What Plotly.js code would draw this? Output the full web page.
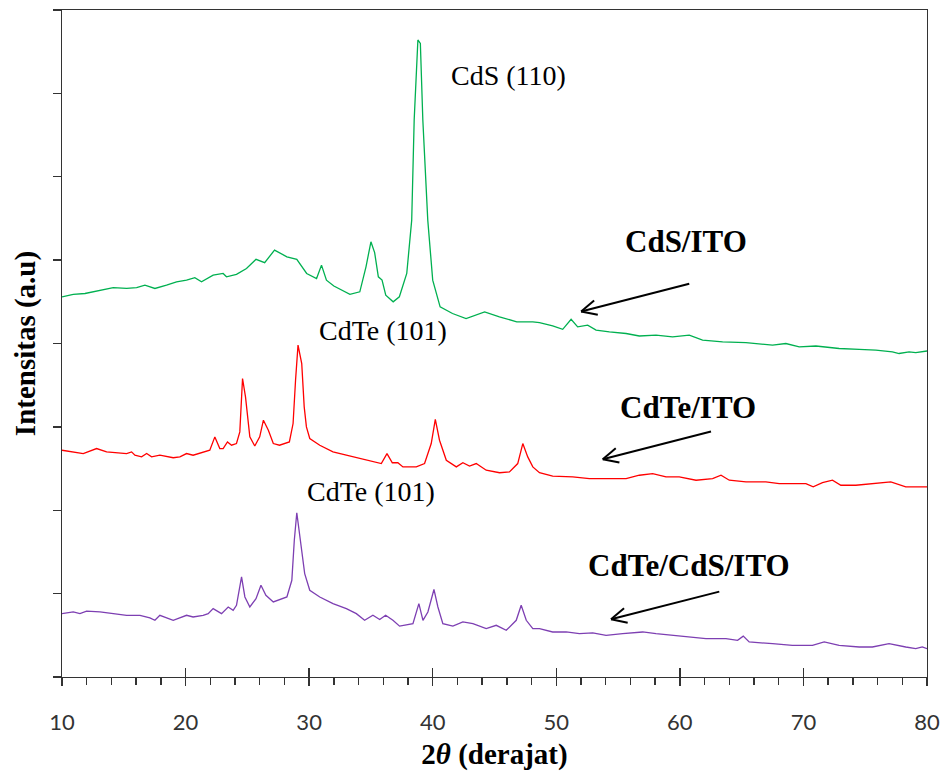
<!DOCTYPE html>
<html><head><meta charset="utf-8">
<script src="https://cdn.plot.ly/plotly-3.0.1.min.js"></script>
<style>html,body{margin:0;padding:0;background:#fff}#chart{width:947px;height:771px}</style>
</head><body><div id="chart"></div>
<script>
// 2θ values and intensities (a.u., offset stacked)
const cdsX = [10.0,10.91,11.86,12.80,13.34,14.15,15.23,16.04,16.71,17.52,18.46,19.27,20.08,20.75,21.29,22.23,23.04,23.31,24.12,24.93,25.7,26.4,27.2,28.2,29.0,29.8,30.6,31.0,31.4,32.0,33.3,34.1,34.6,35.0,35.3,35.6,35.9,36.2,36.8,37.3,37.9,38.3,38.5,38.8,39.0,39.2,39.6,40.0,40.6,41.6,42.7,44.2,45.4,46.8,48.1,48.64,49.71,50.52,51.20,51.73,52.54,53.22,54.30,55.65,56.72,58.07,59.41,60.76,61.84,63.46,65.35,67.50,68.58,69.66,71.01,72.89,74.51,75.86,77.20,77.74,78.55,79.09,80.0];
const cdsY = [456,459,460,463,464,467,466,467,470,466,470,474,476,479,474,482,484,480,483,490,501,497,512,504,501,484,478,494,476,469,459,462,492,522,509,480,476,458,450,456,484,548,668,764,760,668,548,476,444,436,430,438,432,426,426,425,421,417,429,420,422,416,414,412,409,410,408,410,404,402,401,398,400,396,397,394,393,392,390,388,390,389,391];

const cdteX = [10.0,10.91,11.72,12.80,13.61,15.23,15.63,15.90,16.44,16.85,17.25,17.92,19.0,19.54,20.08,20.61,21.42,21.96,22.37,22.77,23.04,23.39,23.72,24.12,24.39,24.61,24.85,25.2,25.6,26.0,26.3,26.7,27.1,27.6,28.4,28.7,28.9,29.1,29.4,29.6,29.78,30.05,30.86,31.93,33.01,34.09,35.16,35.84,36.30,36.73,37.18,37.59,38.67,39.34,39.88,40.21,40.55,41.10,41.91,42.44,42.98,43.52,44.33,45.41,46.21,46.88,47.29,47.69,48.10,48.64,49.71,51.33,52.68,54.03,55.65,56.72,57.80,58.88,59.95,61.31,62.65,63.33,64.0,65.35,66.96,68.04,69.11,70.20,70.79,71.54,72.35,73.03,74.24,75.58,77.07,78.28,79.09,80.0];
const cdteY = [272,270,268,274,270,268,270,266,264,268,264,266,263,264,268,266,270,272,288,274,274,282,278,280,294,358,336,288,277,288,308,296,280,278,282,304,356,398,376,324,300,286,278,270,266,262,258,256,268,257,257,252,252,256,280,309,284,260,252,257,253,256,248,245,246,256,280,264,252,245,241,240,238,238,238,242,244,240,240,236,238,242,236,234,234,232,232,232,228,233,236,230,230,232,234,228,228,228];

const stackX = [10.0,10.91,11.45,11.99,13.07,14.15,15.23,16.31,17.11,17.52,17.92,19.0,20.08,20.61,21.42,21.83,22.23,22.91,23.45,23.85,24.12,24.53,24.8,25.2,25.7,26.1,26.5,27.1,28.2,28.6,28.8,29.0,29.2,29.64,30.05,30.86,31.93,33.01,33.82,34.49,35.16,35.71,36.19,36.78,37.32,38.40,38.88,39.21,39.61,40.10,40.42,40.82,41.63,42.44,43.25,44.33,45.14,45.95,46.76,47.16,47.57,48.10,48.64,49.71,50.80,51.87,52.95,54.03,55.37,56.99,58.07,59.41,60.76,62.11,63.73,64.67,65.13,65.61,67.50,69.11,70.73,71.68,72.89,74.51,75.58,76.93,78.28,79.09,79.62,80.0];
const stackY = [76,78,76,79,78,76,74,74,71,68,74,68,74,72,74,76,82,76,84,80,86,120,96,84,94,110,98,90,96,116,164,197,176,124,104,96,88,82,76,68,74,69,74,68,61,64,88,68,78,105,84,64,61,66,64,58,62,56,68,86,68,58,58,54,54,52,53,50,52,54,52,50,48,46,46,44,49,42,40,38,38,42,38,36,36,40,36,34,36,34];

const xTickVals = [10,20,30,40,50,60,70,80];

// labels
const peakLabels = [
  {text:"CdS (110)", x:46.17, y:722},
  {text:"CdTe (101)", x:35.95, y:416},
  {text:"CdTe (101)", x:34.98, y:222}
];
const sampleLabels = [
  {text:"CdS/ITO", x:60.52, y:522},
  {text:"CdTe/ITO", x:60.68, y:323},
  {text:"CdTe/CdS/ITO", x:60.76, y:134}
];
// arrows: tail -> head
const arrows = [
  {tx:60.76, ty:471.6, hx:52.01, hy:438.4},
  {tx:62.52, ty:294.4, hx:53.76, hy:261.2},
  {tx:63.19, ty:102.4, hx:54.43, hy:69.2}
];

const M = {l:62, r:20, t:10, b:94};
const W = 947 - M.l - M.r, H = 771 - M.t - M.b;
const XR = [10,80], YR = [0,800];
const toPx = (x,y)=>[(x-XR[0])/(XR[1]-XR[0])*W, (YR[1]-y)/(YR[1]-YR[0])*H];
const toData = (px,py)=>[XR[0]+px/W*(XR[1]-XR[0]), YR[1]-py/H*(YR[1]-YR[0])];

const shapes = [];
arrows.forEach(a=>{
  shapes.push({type:'line', xref:'x', yref:'y', x0:a.tx, y0:a.ty, x1:a.hx, y1:a.hy, line:{color:'#000', width:2}});
  const [hx,hy] = toPx(a.hx,a.hy), [tx,ty] = toPx(a.tx,a.ty);
  const ang = Math.atan2(ty-hy, tx-hx);
  const L = 17, spread = 0.45;
  [ang+spread, ang-spread].forEach(t=>{
    const [wx,wy] = toData(hx+L*Math.cos(t), hy+L*Math.sin(t));
    shapes.push({type:'line', xref:'x', yref:'y', x0:a.hx, y0:a.hy, x1:wx, y1:wy, line:{color:'#000', width:2}});
  });
});

const annotations = [];
peakLabels.forEach(p=>annotations.push({text:p.text, x:p.x, y:p.y, xref:'x', yref:'y', showarrow:false,
  font:{family:'"Liberation Serif", "Times New Roman", serif', size:28, color:'#000'}}));
sampleLabels.forEach(p=>annotations.push({text:'<b>'+p.text+'</b>', x:p.x, y:p.y, xref:'x', yref:'y', showarrow:false,
  font:{family:'"Liberation Serif", "Times New Roman", serif', size:31, color:'#000'}}));

const lineW = 1.3;
const traces = [
  {x:cdsX, y:cdsY, mode:'lines', line:{color:'#00B050', width:lineW}, name:'CdS/ITO'},
  {x:cdteX, y:cdteY, mode:'lines', line:{color:'#FF0000', width:lineW}, name:'CdTe/ITO'},
  {x:stackX, y:stackY, mode:'lines', line:{color:'#7D3FB2', width:lineW}, name:'CdTe/CdS/ITO'},
  {x:[10,80], y:[0,0], xaxis:'x2', mode:'lines', line:{width:0}, hoverinfo:'skip', showlegend:false}
];

const layout = {
  width:947, height:771, margin:M, showlegend:false,
  paper_bgcolor:'#fff', plot_bgcolor:'#fff',
  xaxis:{range:XR, tickvals:xTickVals, ticks:'outside', ticklen:8, tickwidth:1.3, tickcolor:'#333',
    showline:true, linecolor:'#333', linewidth:1.3, mirror:true, showgrid:false, zeroline:false,
    ticklabelstandoff:17,
    tickfont:{family:'Lato, "Open Sans", sans-serif', size:22, color:'#333'},
    minor:{dtick:2, ticks:'outside', ticklen:7, tickwidth:1.3, tickcolor:'#333', showgrid:false},
    title:{text:'<b>2<i>θ</i> (derajat)</b>', font:{family:'"Liberation Serif", "Times New Roman", serif', size:29, color:'#000'}, standoff:12},
    automargin:false},
  xaxis2:{range:XR, overlaying:'x', tickvals:xTickVals, ticks:'inside', ticklen:9, tickwidth:1.3, tickcolor:'#333',
    showticklabels:false, showline:false, showgrid:false, zeroline:false, side:'bottom', anchor:'y'},
  yaxis:{range:YR, dtick:100, ticks:'outside', ticklen:8, tickwidth:1.3, tickcolor:'#333', showticklabels:false,
    showline:true, linecolor:'#333', linewidth:1.3, mirror:true, showgrid:false, zeroline:false,
    title:{text:'<b>Intensitas (a.u)</b>', font:{family:'"Liberation Serif", "Times New Roman", serif', size:29, color:'#000'}, standoff:8},
    automargin:false},
  shapes:shapes, annotations:annotations
};
Plotly.newPlot('chart', traces, layout, {displayModeBar:false, staticPlot:true});
</script></body></html>
